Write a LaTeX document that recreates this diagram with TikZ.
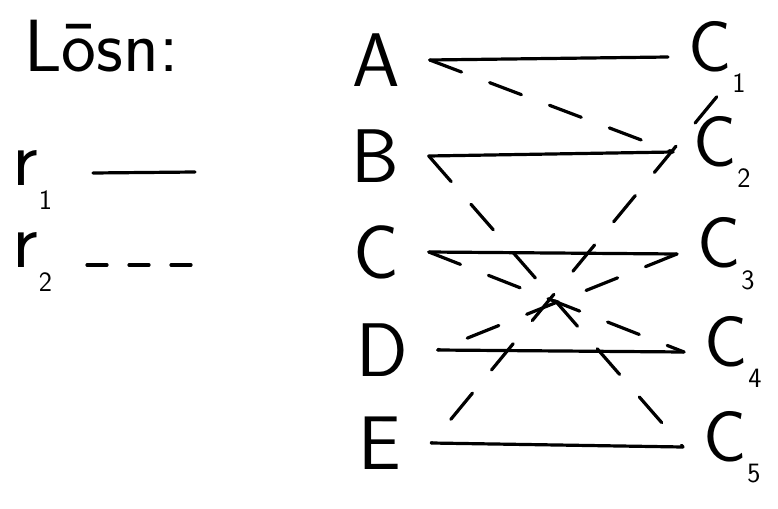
\documentclass[tikz,border=0pt]{standalone}
\newcommand{\lowsub}[1]{\hspace{1pt}\raisebox{-0.3em}{\fontsize{28}{30}\selectfont #1}}
\tikzset{
  letter/.style={font=\sffamily\fontsize{76}{80}\selectfont, inner sep=0pt, outer xsep=30pt, outer ysep=4pt},
  cnode/.style={font=\sffamily\fontsize{72}{80}\selectfont, inner sep=0pt, outer xsep=20pt, outer ysep=4pt, anchor=west},
  rline/.style={line width=3.2pt, line cap=round},
  dline/.style={line width=3.2pt, line cap=round, dash pattern=on 34pt off 30pt},
}
\begin{document}
\begin{tikzpicture}[x=1pt,y=-1pt]
\useasboundingbox (0,0) rectangle (778,508);
% title
\node[font=\sffamily\fontsize{74}{80}\selectfont, inner sep=0pt, anchor=west] (title) at (24,46) {Lōsn:};
% legend
\node[font=\sffamily\fontsize{80}{84}\selectfont, inner sep=0pt, anchor=west] (r1) at (12,180) {r\lowsub{1}};
\node[font=\sffamily\fontsize{80}{84}\selectfont, inner sep=0pt, anchor=west] (r2) at (12,262) {r\lowsub{2}};
\coordinate (l1a) at (93,173);
\coordinate (l1b) at (195,172);
\coordinate (l2a) at (87,265);
\coordinate (l2b) at (192,265);
\draw[rline] (l1a) -- (l1b);
\draw[rline, dash pattern=on 20pt off 22pt] (l2a) -- (l2b);
% left letters
\node[letter] (A) at (376,60) {A};
\node[letter] (B) at (375,156) {B};
\node[letter] (C) at (376,252) {C};
\node[letter] (D) at (382,350) {D};
\node[letter] (E) at (380,443) {E};
% right nodes
\node[cnode] (C1) at (668,57) {C\lowsub{1}};
\node[cnode] (C2) at (673,152) {C\lowsub{2}};
\node[cnode] (C3) at (677,254) {C\lowsub{3}};
\node[cnode] (C4) at (684,352) {C\lowsub{4}};
\node[cnode] (C5) at (683,447) {C\lowsub{5}};
% solid r1
\draw[rline] (A.east) -- (C1.west);
\draw[rline] (B.east) -- (C2.west);
\draw[rline] (C.east) -- (C3.west);
\draw[rline] (D.east) -- (C4.west);
\draw[rline] (E.east) -- (C5.west);
% dashed r2
\draw[dline] (A.east) -- (C2.west);
\draw[dline] (C1.south) -- (E.east);
\draw[dline] (B.east) -- (C5.west);
\draw[dline] (C.east) -- (C4.west);
\draw[dline] (C3.west) -- (D.east);
\end{tikzpicture}
\end{document}
